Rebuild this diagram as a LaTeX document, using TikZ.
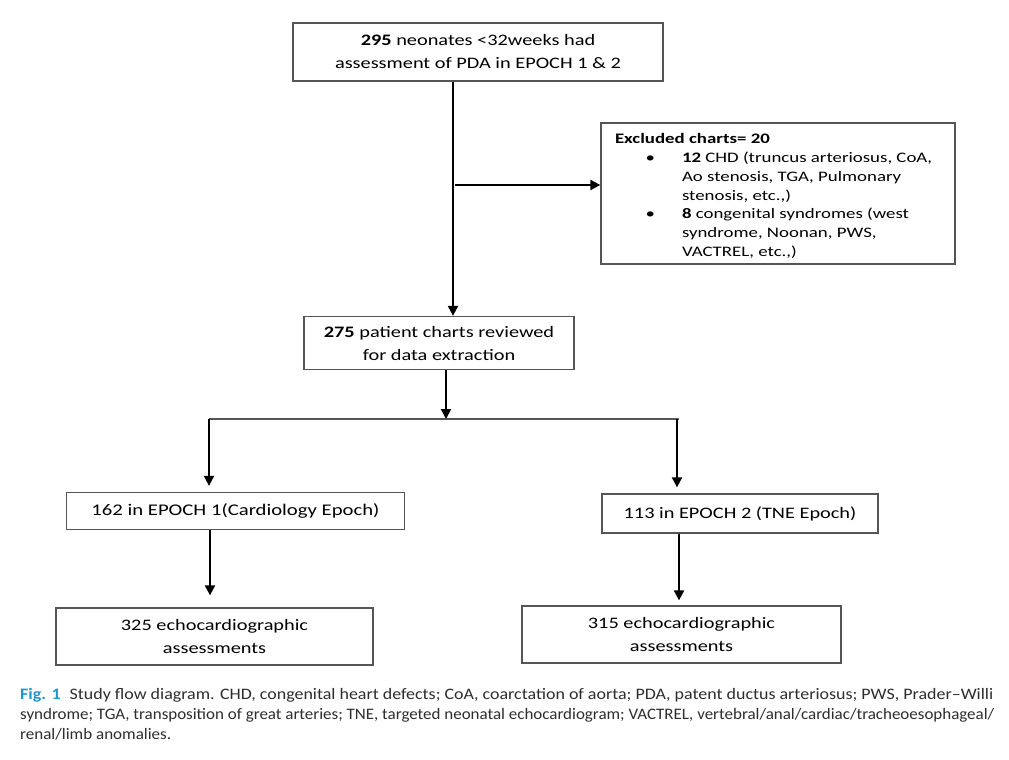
\documentclass[tikz,border=0pt]{standalone}
\usepackage{graphicx}
\usepackage{fontspec}
\setmainfont[FakeStretch=1.27]{Carlito}
\newfontfamily\exfont[FakeStretch=1.3]{Carlito}
\newfontfamily\capfont{Carlito}
\usetikzlibrary{arrows.meta,calc}
\definecolor{boxgray}{RGB}{85,85,85}
\definecolor{figblue}{RGB}{30,150,210}
\definecolor{captext}{RGB}{45,45,45}
\newcommand{\capline}[2]{\resizebox{#1}{\height}{#2}}
\begin{document}
\begin{tikzpicture}[x=1pt,y=-1pt]
\tikzset{
  flowbox/.style={draw=boxgray, line width=1.3pt, fill=white, align=center, inner sep=0pt,
    font=\fontsize{16}{23}\selectfont},
  exbox/.style={draw=boxgray, line width=1.3pt, fill=white, inner sep=0pt,
    minimum width=354pt, minimum height=141pt},
  arr/.style={line width=2pt, -{Triangle[width=10pt,length=10pt]}},
  barline/.style={draw=boxgray, line width=1.3pt},
}
\useasboundingbox (0,0) rectangle (1009,760);

\node[flowbox, minimum width=370pt, minimum height=58pt] (top) at (478,52)
  {\textbf{295} neonates <32weeks had\\assessment of PDA in EPOCH 1 \& 2};

\node[exbox] (ex) at (778,193.5) {};
\node[inner sep=0pt] (ext) at ($(ex.center)+(0,2.5)$)
  {\parbox{326pt}{\raggedright\exfont\fontsize{14.5}{18.8}\selectfont
   \textbf{Excluded charts= 20}\\
   \hspace*{67pt}\llap{\textbullet\hspace{27pt}}\textbf{12} CHD (truncus arteriosus, CoA,\\
   \hspace*{67pt}Ao stenosis, TGA, Pulmonary\\
   \hspace*{67pt}stenosis, etc.,)\\
   \hspace*{67pt}\llap{\textbullet\hspace{27pt}}\textbf{8} congenital syndromes (west\\
   \hspace*{67pt}syndrome, Noonan, PWS,\\
   \hspace*{67pt}VACTREL, etc.,)}};

\node[flowbox, minimum width=270pt, minimum height=53pt] (mid) at (439,343)
  {\textbf{275} patient charts reviewed\\for data extraction};

\node[flowbox, minimum width=338pt, minimum height=37pt, font=\fontsize{16.3}{23}\selectfont] (e1) at (235.5,511)
  {162 in EPOCH 1(Cardiology Epoch)};
\node[flowbox, minimum width=276pt, minimum height=39pt] (e2) at (740,513.5)
  {113 in EPOCH 2 (TNE Epoch)};

\node[flowbox, minimum width=317pt, minimum height=57pt] (b1) at (214.5,636.5)
  {325 echocardiographic\\assessments};
\node[flowbox, minimum width=319pt, minimum height=57pt] (b2) at (681.5,634.5)
  {315 echocardiographic\\assessments};

% connectors
\coordinate (vx) at (453,0);
\draw[arr] (top.south -| vx) -- (mid.north -| vx);
\coordinate (hx) at (455,185);
\draw[arr] (hx) -- (hx -| ex.west);

\coordinate (bl) at (209,419);
\coordinate (br) at (679,419);
\draw[barline] (bl) -- (br);
\coordinate (mx) at (446,0);
\draw[arr] (mid.south -| mx) -- (mx |- br);
\coordinate (rx) at (677,0);
\draw[arr, shorten >=6pt] (bl) -- (e1.north -| bl);
\draw[arr, shorten >=6pt] (rx |- br) -- (e2.north -| rx);

\coordinate (lx2) at (210,0);
\coordinate (rx2) at (679,0);
\draw[arr, shorten >=12pt] (e1.south -| lx2) -- (b1.north -| lx2);
\draw[arr, shorten >=5pt] (e2.south -| rx2) -- (b2.north -| rx2);

% caption
\node[anchor=north west, align=left, inner sep=0pt, text=captext,
      font=\capfont\fontsize{16}{20}\selectfont] (cap) at (20,688)
  {\capline{973pt}{{\color{figblue}\textbf{Fig. 1}}\hspace{8pt}Study flow diagram. CHD, congenital heart defects; CoA, coarctation of aorta; PDA, patent ductus arteriosus; PWS, Prader–Willi}\\
   \capline{974pt}{syndrome; TGA, transposition of great arteries; TNE, targeted neonatal echocardiogram; VACTREL, vertebral/anal/cardiac/tracheoesophageal/}\\
   \capline{151pt}{renal/limb anomalies.}};
\end{tikzpicture}
\end{document}
